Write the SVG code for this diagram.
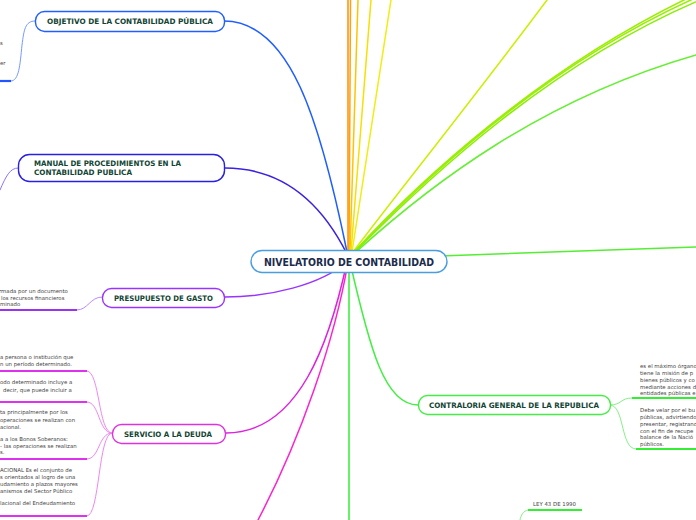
<svg xmlns="http://www.w3.org/2000/svg" width="696" height="520" viewBox="0 0 696 520">
<style>
.c{fill:none;stroke-width:1.5;stroke-linecap:round}
.t{fill:none;stroke-width:1;stroke-linecap:round}
.u{fill:none;stroke-width:2.2}
.box{fill:#ffffff;stroke-width:1.4}
.nt{font-family:"DejaVu Sans",Verdana,sans-serif;font-weight:bold;font-size:7.5px;fill:#114433}
.ct{font-family:"DejaVu Sans",Verdana,sans-serif;font-weight:bold;font-size:10px;fill:#1a2b4c}
.s{font-family:"DejaVu Sans",Verdana,sans-serif;font-size:5.4px;fill:#444444}
</style>
<rect width="696" height="520" fill="#ffffff"/>
<g id="connectors">
  <path class="c" stroke="#ff8c00" d="M348,252 L348,0"/>
  <path class="c" stroke="#ffa010" d="M349,252 L350.5,0"/>
  <path class="c" stroke="#ffc400" d="M350,252 L358,0"/>
  <path class="c" stroke="#f5e000" d="M351,252 L371,0"/>
  <path class="c" stroke="#eeee10" d="M352,252 L391,0"/>
  <path class="c" stroke="#ccee00" d="M353,252 C400,190 480,90 547,0"/>
  <path class="c" stroke="#99ee00" d="M354,252 C420,180 540,70 686,-1"/>
  <path class="c" stroke="#99ee00" d="M354,252 C425,178 545,66 693,-1"/>
  <path class="c" stroke="#88ee00" d="M355,252 C430,176 550,64 700,0"/>
  <path class="c" stroke="#66ee33" d="M356,252 C430,185 540,100 696,55"/>
  <path class="c" stroke="#55ee33" d="M440,256 L696,247"/>
  <path class="c" stroke="#33ee33" d="M349,262 L349,520"/>
  <path class="c" stroke="#44ee44" d="M350,262 C370,350 385,405 418,405"/>
  <path class="c" stroke="#ff22cc" d="M348,262 C335,340 300,440 258,520"/>
  <path class="c" stroke="#dd22dd" d="M347,262 C330,340 300,433 226,433"/>
  <path class="c" stroke="#9933ff" d="M347,262 C320,285 270,297 225,297"/>
  <path class="c" stroke="#3a22e0" d="M347,254 C320,200 280,168 225,168"/>
  <path class="c" stroke="#1f5eff" d="M347,252 C320,120 290,21 224,21"/>
  <path class="t" stroke="#7799ff" d="M35,21 C25,21 24,30 22,45 C20,65 19,81 11,81"/>
  <path class="u" stroke="#2255ff" d="M0,81 L11,81"/>
  <path class="t" stroke="#8877ff" d="M18,168 C10,168 6,176 0,190"/>
  <path class="t" stroke="#bb88ff" d="M102,297 C90,297 88,310 77,310"/>
  <path class="u" stroke="#9933ee" d="M0,310 L77,310"/>
  <path class="t" stroke="#ee88ee" d="M112,433 C98,433 100,371 87,371"/>
  <path class="t" stroke="#ee88ee" d="M112,433 C98,433 100,402 87,402"/>
  <path class="t" stroke="#ee88ee" d="M112,433 C98,433 100,459 87,459"/>
  <path class="t" stroke="#ee88ee" d="M112,433 C98,433 100,516 87,516"/>
  <path class="u" stroke="#dd33ee" d="M0,371 L87,371 M0,402 L87,402 M0,459 L87,459 M0,516 L87,516"/>
  <path class="t" stroke="#88ee88" d="M610,405 C622,405 620,398 632,398"/>
  <path class="t" stroke="#88ee88" d="M610,405 C625,405 620,449 636,449"/>
  <path class="u" stroke="#33ee33" d="M632,398 L696,398 M636,449 L696,449"/>
  <path class="t" stroke="#88ee88" d="M528,510 C523,511 521,515 520,520"/>
  <path class="u" stroke="#33ee33" d="M528,510 L582,510"/>
</g>
<g id="center">
  <rect class="box" x="251" y="250.5" width="196" height="22" rx="11" stroke="#4a9ee0"/>
  <text class="ct" x="264" y="265.5" textLength="170" lengthAdjust="spacingAndGlyphs">NIVELATORIO DE CONTABILIDAD</text>
</g>
<g id="objetivo">
  <rect class="box" x="35.5" y="11.5" width="189" height="20" rx="9" stroke="#1f5eff"/>
  <text class="nt" x="47" y="24.3" textLength="166" lengthAdjust="spacingAndGlyphs">OBJETIVO DE LA CONTABILIDAD PÚBLICA</text>
  <text class="s" x="0" y="45">s</text>
  <text class="s" x="0" y="65">er</text>
</g>
<g id="manual">
  <rect class="box" x="18.5" y="154.5" width="206" height="27" rx="11" stroke="#2a20e0"/>
  <text class="nt" x="34" y="166" textLength="147" lengthAdjust="spacingAndGlyphs">MANUAL DE PROCEDIMIENTOS EN LA</text>
  <text class="nt" x="34" y="174.5" textLength="98" lengthAdjust="spacingAndGlyphs">CONTABILIDAD PUBLICA</text>
</g>
<g id="presupuesto">
  <rect class="box" x="102.5" y="288.5" width="122" height="19" rx="9" stroke="#9933ff"/>
  <text class="nt" x="114" y="300.5" textLength="99" lengthAdjust="spacingAndGlyphs">PRESUPUESTO DE GASTO</text>
  <text class="s" x="-1" y="293">rmada por un documento</text>
  <text class="s" x="1" y="299.5">los recursos financieros</text>
  <text class="s" x="0" y="306">minado</text>
</g>
<g id="servicio">
  <rect class="box" x="112.5" y="424.5" width="113" height="19" rx="9" stroke="#dd33dd"/>
  <text class="nt" x="124" y="437" textLength="88" lengthAdjust="spacingAndGlyphs">SERVICIO A LA DEUDA</text>
  <text class="s" x="0" y="359">a persona o institución que</text>
  <text class="s" x="0" y="366">n un período determinado.</text>
  <text class="s" x="0" y="384">odo determinado incluye a</text>
  <text class="s" x="3" y="391.5">decir, que puede incluir a</text>
  <text class="s" x="0" y="414">ta principalmente por los</text>
  <text class="s" x="0" y="421.5">operaciones se realizan con</text>
  <text class="s" x="0" y="428.5">acional.</text>
  <text class="s" x="0" y="441">a a los Bonos Soberanos:</text>
  <text class="s" x="0" y="447.5">- las operaciones se realizan</text>
  <text class="s" x="0" y="454">s.</text>
  <text class="s" x="0" y="471.5">ACIONAL Es el conjunto de</text>
  <text class="s" x="0" y="478.5">s orientados al logro de una</text>
  <text class="s" x="0" y="485.5">udamiento a plazos mayores</text>
  <text class="s" x="0" y="492.5">anismos del Sector Público</text>
  <text class="s" x="0" y="504.5">lacional del Endeudamiento</text>
</g>
<g id="contraloria">
  <rect class="box" x="418.5" y="395.5" width="192" height="19" rx="9" stroke="#44ee44"/>
  <text class="nt" x="429" y="408" textLength="170" lengthAdjust="spacingAndGlyphs">CONTRALORIA GENERAL DE LA REPUBLICA</text>
  <text class="s" x="640" y="368">es el máximo órgano</text>
  <text class="s" x="640" y="375">tiene la misión de p</text>
  <text class="s" x="640" y="381.5">bienes públicos y co</text>
  <text class="s" x="640" y="388.5">mediante acciones d</text>
  <text class="s" x="640" y="395">entidades públicas e</text>
  <text class="s" x="640" y="412">Debe velar por el bu</text>
  <text class="s" x="640" y="419">públicas, advirtiendo</text>
  <text class="s" x="640" y="425.5">presentar, registrand</text>
  <text class="s" x="640" y="432.5">con el fin de recupe</text>
  <text class="s" x="640" y="439">balance de la Nació</text>
  <text class="s" x="640" y="446">públicos.</text>
</g>
<g id="ley43">
  <text class="s" x="533" y="506">LEY 43 DE 1990</text>
</g>
</svg>
